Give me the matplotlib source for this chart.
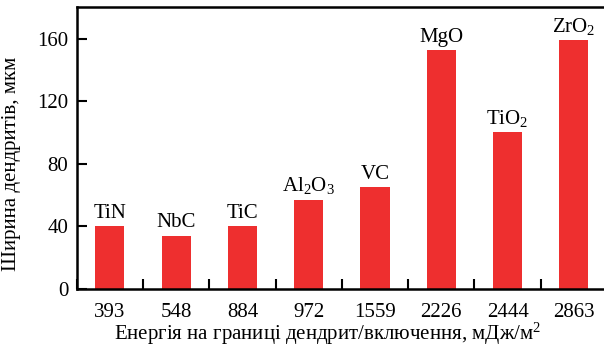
import matplotlib
matplotlib.use("Agg")
import matplotlib.pyplot as plt
from matplotlib.ticker import MultipleLocator

plt.rcParams['font.family'] = ['Liberation Serif', 'DejaVu Serif']
plt.rcParams['mathtext.fontset'] = 'custom'
plt.rcParams['mathtext.rm'] = 'Liberation Serif'
plt.rcParams['mathtext.it'] = 'Liberation Serif:italic'

# energy at dendrite/inclusion boundary, mJ/m2
energy = ['393', '548', '884', '972', '1559', '2226', '2444', '2863']
phases = ['TiN', 'NbC', 'TiC', 'Al$_2$O$_3$', 'VC', 'MgO', 'TiO$_2$', 'ZrO$_2$']
width_um = [40, 34, 40, 57, 65, 152.5, 100, 159]

fig = plt.figure(figsize=(6.04, 3.48), dpi=100)
ax = fig.add_axes([0.127, 0.170, 0.878, 0.809])

x = range(len(energy))
bars = ax.bar(x, width_um, width=0.44, color='#ee2f2f')

for xi, v, name in zip(x, width_um, phases):
    ax.annotate(name, (xi, v), xytext=(0, 6), textcoords='offset points',
                ha='center', va='baseline', fontsize=15)

ax.set_xlim(-0.5, 7.5)
ax.set_ylim(0, 180)
ax.set_xticks(list(x))
ax.set_xticklabels(energy, fontsize=15)
ax.set_xticks([i + 0.5 for i in range(-1, 8)], minor=True)
ax.tick_params(axis='x', which='major', length=0, pad=10)
ax.tick_params(axis='x', which='minor', direction='in', length=7, width=1.5)
ax.yaxis.set_major_locator(MultipleLocator(40))
ax.tick_params(axis='y', direction='in', length=7, width=1.5, labelsize=15, pad=6)

for s in ['left', 'bottom', 'top']:
    ax.spines[s].set_linewidth(1.8)
ax.spines['right'].set_visible(False)

ax.set_ylabel('Ширина дендритів, мкм', fontsize=15)
ax.yaxis.set_label_coords(-0.105, 0.444)
ax.set_xlabel('Енергія на границі дендрит/включення, мДж/м$^2$', fontsize=15)
ax.xaxis.set_label_coords(0.474, -0.115)

fig.savefig('out.png', dpi=100)
